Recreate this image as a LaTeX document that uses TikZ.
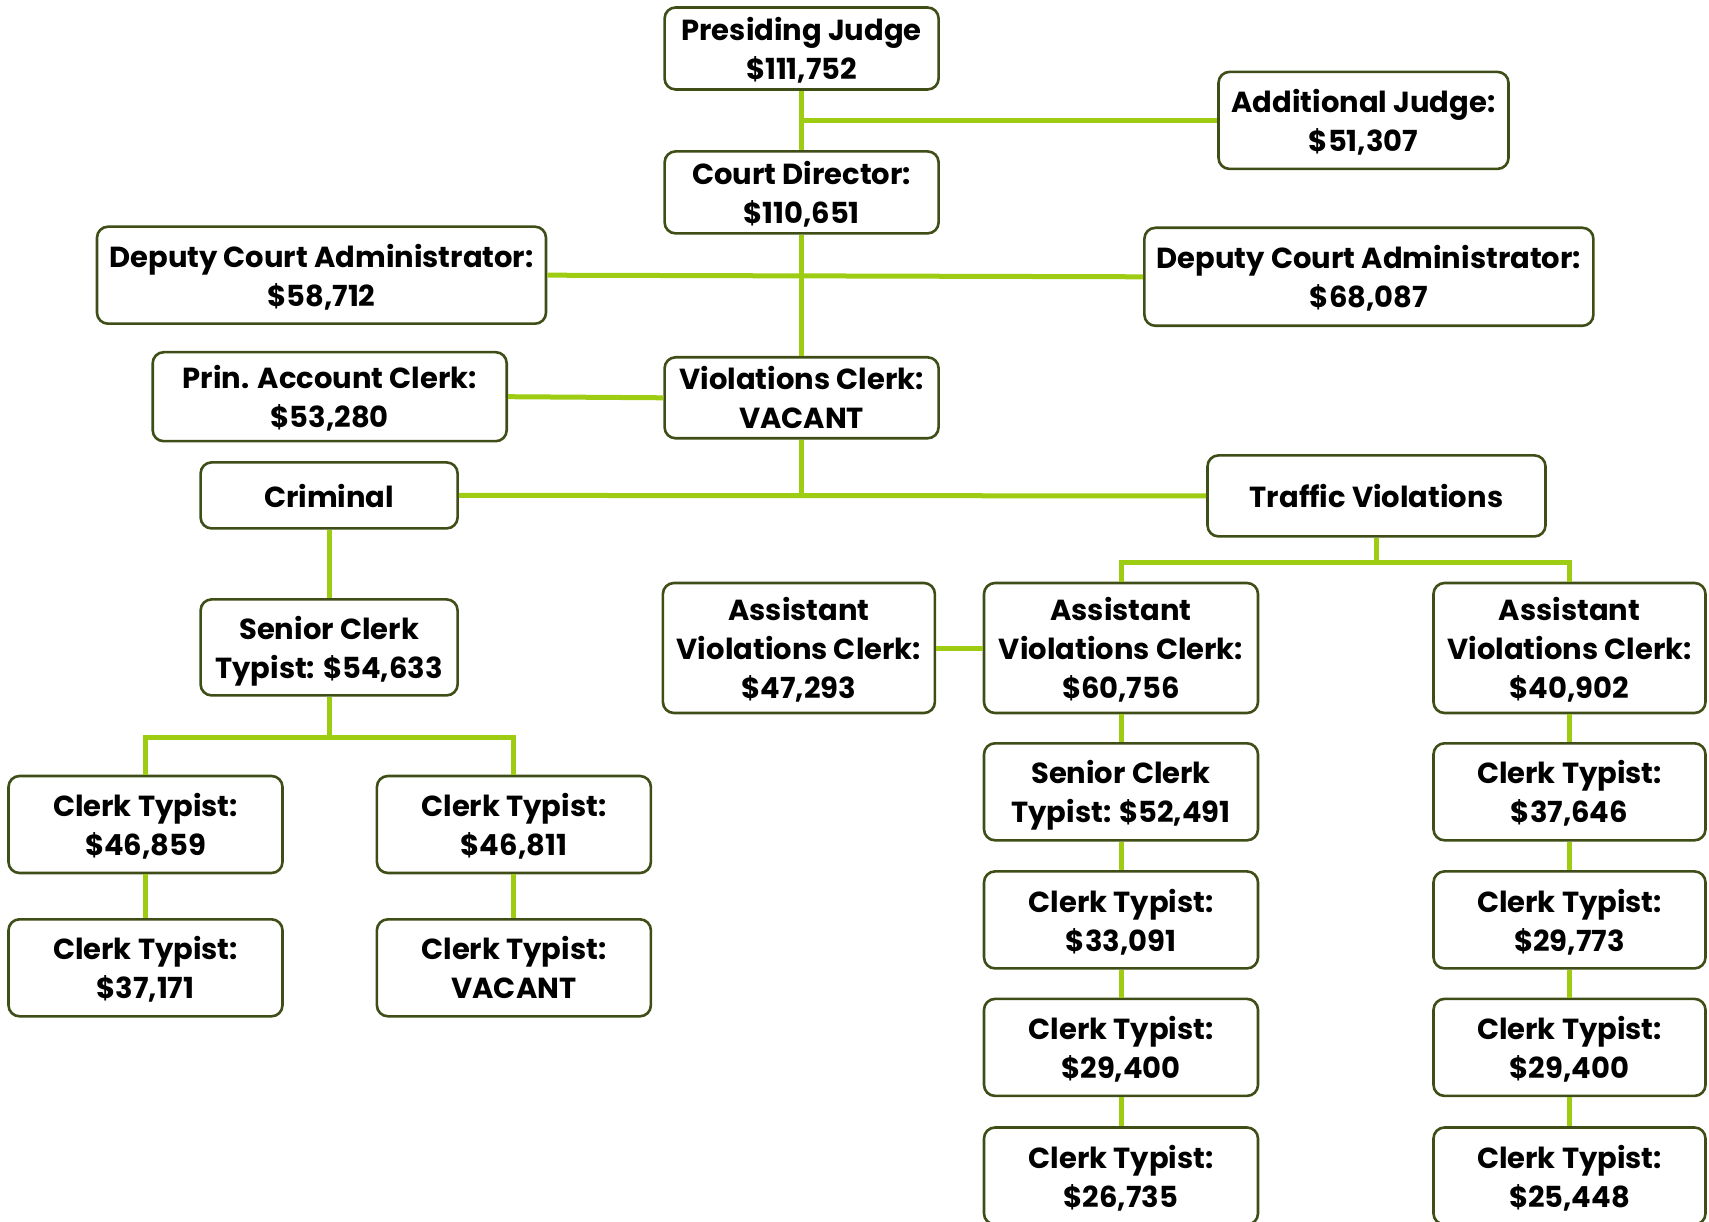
\documentclass[tikz,border=0pt]{standalone}
\usepackage{fontspec}
\setmainfont{Poppins}
\definecolor{boxline}{RGB}{62,78,22}
\definecolor{linkgreen}{RGB}{158,204,18}

\begin{document}
\begin{tikzpicture}[x=1pt,y=-1pt,
    box/.style={draw=boxline, line width=2.6pt, rounded corners=11pt, fill=white,
      align=center, inner sep=0pt, text depth=-4pt, font=\fontsize{29}{39}\selectfont\bfseries},
    link/.style={draw=linkgreen, line width=5pt}]
  \useasboundingbox (0,0) rectangle (1709,1222);

  % Top of the court
  \node[box, minimum width=274pt, minimum height=82pt] (pj) at (801.6,48.5) {Presiding Judge\\\$111,752};
  \node[box, minimum width=290pt, minimum height=97pt] (aj) at (1363.5,120.4) {Additional Judge:\\\$51,307};
  \node[box, minimum width=274pt, minimum height=82pt] (cd) at (801.6,192.4) {Court Director:\\\$110,651};
  \node[box, minimum width=449pt, minimum height=97pt] (depl) at (321.5,275.2) {Deputy Court Administrator:\\\$58,712};
  \node[box, minimum width=449pt, minimum height=98pt] (depr) at (1368.9,276.8) {Deputy Court Administrator:\\\$68,087};
  \node[box, minimum width=354pt, minimum height=89pt] (prin) at (329.7,396.7) {Prin. Account Clerk:\\\$53,280};
  \node[box, minimum width=274pt, minimum height=81pt] (vc) at (801.6,397.8) {Violations Clerk:\\VACANT};

  % The two sections
  \node[box, minimum width=257pt, minimum height=66pt] (crim) at (329.1,495.4) {Criminal};
  \node[box, minimum width=338pt, minimum height=81pt] (traf) at (1376.5,495.9) {Traffic Violations};

  % Criminal side
  \node[box, minimum width=257pt, minimum height=96pt] (senl) at (329.1,647.4) {Senior Clerk\\Typist: \$54,633};
  \node[box, minimum width=274pt, minimum height=97pt] (cta) at (145.5,824.5) {Clerk Typist:\\\$46,859};
  \node[box, minimum width=274pt, minimum height=97pt] (ctb) at (513.9,824.5) {Clerk Typist:\\\$46,811};
  \node[box, minimum width=274pt, minimum height=97pt] (ctc) at (145.5,967.8) {Clerk Typist:\\\$37,171};
  \node[box, minimum width=274pt, minimum height=97pt] (ctd) at (513.9,967.8) {Clerk Typist:\\VACANT};

  % Traffic side
  \node[box, minimum width=272pt, minimum height=130pt] (avca) at (798.9,648) {Assistant\\Violations Clerk:\\\$47,293};
  \node[box, minimum width=274pt, minimum height=130pt] (avcb) at (1121,648) {Assistant\\Violations Clerk:\\\$60,756};
  \node[box, minimum width=272pt, minimum height=130pt] (avcc) at (1569.5,648) {Assistant\\Violations Clerk:\\\$40,902};

  \node[box, minimum width=274pt, minimum height=97pt] (senr) at (1121,791.8) {Senior Clerk\\Typist: \$52,491};
  \node[box, minimum width=274pt, minimum height=97pt] (cte) at (1121,919.9) {Clerk Typist:\\\$33,091};
  \node[box, minimum width=274pt, minimum height=97pt] (ctf) at (1121,1047.4) {Clerk Typist:\\\$29,400};
  \node[box, minimum width=274pt, minimum height=97pt] (ctg) at (1121,1176) {Clerk Typist:\\\$26,735};

  \node[box, minimum width=272pt, minimum height=97pt] (cth) at (1569.5,791.8) {Clerk Typist:\\\$37,646};
  \node[box, minimum width=272pt, minimum height=97pt] (cti) at (1569.5,919.9) {Clerk Typist:\\\$29,773};
  \node[box, minimum width=272pt, minimum height=97pt] (ctj) at (1569.5,1047.4) {Clerk Typist:\\\$29,400};
  \node[box, minimum width=272pt, minimum height=97pt] (ctk) at (1569.5,1176) {Clerk Typist:\\\$25,448};

  % Connectors
  \draw[link] (pj.south) -- (cd.north);
  \draw[link] (aj.west) -- (aj.west -| pj.south);
  \draw[link] (cd.south) -- (vc.north);
  \draw[link] (depl.east) -- (depr.west);
  \draw[link] (prin.east) -- (vc.west);
  \draw[link] (vc.south) -- (vc.south |- crim.east);
  \draw[link] (crim.east) -- (traf.west);

  \coordinate (forkl) at (329.1,737.9);
  \draw[link] (crim.south) -- (senl.north);
  \draw[link] (senl.south) -- (forkl);
  \draw[link] (cta.north) |- (forkl) -| (ctb.north);
  \draw[link] (cta.south) -- (ctc.north);
  \draw[link] (ctb.south) -- (ctd.north);

  \coordinate (forkr) at (1376.5,562.4);
  \draw[link] (traf.south) -- (forkr);
  \draw[link] (avcb.north) |- (forkr) -| (avcc.north);
  \draw[link] (avca.east) -- (avcb.west);
  \draw[link] (avcb.south) -- (senr.north);
  \draw[link] (senr.south) -- (cte.north);
  \draw[link] (cte.south) -- (ctf.north);
  \draw[link] (ctf.south) -- (ctg.north);
  \draw[link] (avcc.south) -- (cth.north);
  \draw[link] (cth.south) -- (cti.north);
  \draw[link] (cti.south) -- (ctj.north);
  \draw[link] (ctj.south) -- (ctk.north);
\end{tikzpicture}
\end{document}
